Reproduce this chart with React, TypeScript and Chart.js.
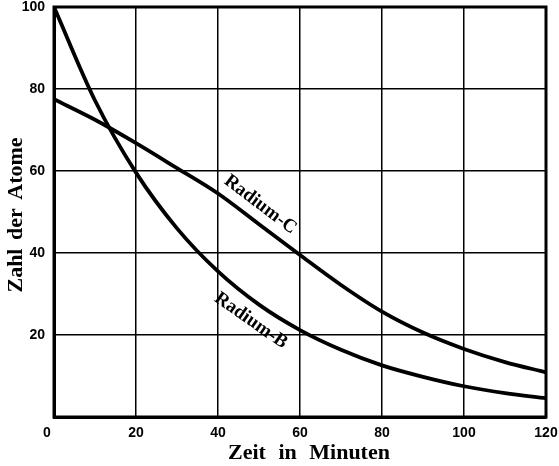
import React, { useEffect, useRef } from "react";
import { Chart, registerables } from "chart.js";

Chart.register(...registerables);

const minutes = [0, 10, 20, 30, 40, 50, 60, 70, 80, 90, 100, 110, 120];
const radiumB = [100, 77.2, 59.6, 46, 35.5, 27.4, 21.2, 16.4, 12.6, 9.8, 7.5, 5.8, 4.6];
const radiumC = [77.5, 72.5, 66.8, 60.7, 54.5, 47, 39.5, 32.2, 25.7, 20.6, 16.6, 13.4, 10.9];
const xTicks = [0, 20, 40, 60, 80, 100, 120];
const yTicks = [20, 40, 60, 80, 100];
const xTitle = "Zeit in Minuten";
const yTitle = "Zahl der Atome";
const labelB = "Radium-B";
const labelC = "Radium-C";

const textPlugin = {
  id: "textPlugin",
  afterDraw(chart: any) {
    const ctx = chart.ctx;
    const area = chart.chartArea;
    const xs = chart.scales.x;
    const ys = chart.scales.y;
    ctx.save();
    // frame
    ctx.strokeStyle = "#000";
    ctx.lineWidth = 3;
    ctx.strokeRect(area.left, area.top, area.right - area.left, area.bottom - area.top);
    ctx.fillStyle = "#000";
    // axis titles
    ctx.font = "bold 22px 'Liberation Serif'";
    ctx.textAlign = "center";
    ctx.textBaseline = "middle";
    try { (ctx as any).wordSpacing = "7px"; } catch (e) {}
    ctx.fillText(xTitle, 309, 453);
    try { (ctx as any).wordSpacing = "3px"; } catch (e) {}
    ctx.save();
    ctx.translate(16, 215);
    ctx.rotate(-Math.PI / 2);
    ctx.fillText(yTitle, 0, 0);
    ctx.restore();
    try { (ctx as any).wordSpacing = "0px"; } catch (e) {}
    // curve labels
    ctx.font = "bold 19px 'Liberation Serif'";
    const drawLabel = (txt: string, xv: number, yv: number, ang: number) => {
      ctx.save();
      ctx.translate(xs.getPixelForValue(xv), ys.getPixelForValue(yv));
      ctx.rotate((ang * Math.PI) / 180);
      ctx.fillText(txt, 0, 0);
      ctx.restore();
    };
    drawLabel(labelC, 50.3, 51.8, 37);
    drawLabel(labelB, 48, 23.5, 35);
    ctx.restore();
  },
};

export default function App() {
  const ref = useRef<HTMLCanvasElement | null>(null);
  useEffect(() => {
    document.body.style.margin = "0";
    const canvas = ref.current!;
    const chart = new Chart(canvas, {
      type: "line",
      data: {
        labels: minutes,
        datasets: [
          {
            label: labelB,
            data: minutes.map((m, i) => ({ x: m, y: radiumB[i] })),
            borderColor: "#000",
            borderWidth: 3.8,
            pointRadius: 0,
            cubicInterpolationMode: "monotone",
          },
          {
            label: labelC,
            data: minutes.map((m, i) => ({ x: m, y: radiumC[i] })),
            borderColor: "#000",
            borderWidth: 3.8,
            pointRadius: 0,
            cubicInterpolationMode: "monotone",
          },
        ],
      },
      options: {
        responsive: false,
        animation: false,
        layout: { padding: { top: 7, right: 13, left: 0, bottom: 0 } },
        plugins: { legend: { display: false }, tooltip: { enabled: false } },
        scales: {
          x: {
            type: "linear",
            min: 0,
            max: 120,
            afterBuildTicks: (s: any) => {
              s.ticks = xTicks.map((v) => ({ value: v }));
            },
            afterFit: (s: any) => {
              s.height = 49;
              s.paddingLeft = 0;
              s.paddingRight = 0;
            },
            grid: { color: "#000", lineWidth: 1.5, drawTicks: false },
            border: { color: "#000", width: 3 },
            ticks: {
              color: "#000",
              padding: 8,
              maxRotation: 0,
              callback: (v: any) => (v === 0 ? "0\u2002\u2002" : String(v)),
              font: { family: "'Liberation Sans'", weight: "bold", size: 14 },
            },
          },
          y: {
            type: "linear",
            min: 0,
            max: 100,
            afterBuildTicks: (s: any) => {
              s.ticks = [0, ...yTicks].map((v) => ({ value: v }));
            },
            afterFit: (s: any) => {
              s.width = 54;
              s.paddingTop = 0;
              s.paddingBottom = 0;
            },
            grid: { color: "#000", lineWidth: 1.5, drawTicks: false },
            border: { color: "#000", width: 3 },
            ticks: {
              color: "#000",
              padding: 9,
              callback: (v: any) => (v === 0 ? "" : String(v)),
              font: { family: "'Liberation Sans'", weight: "bold", size: 14 },
            },
          },
        },
      },
      plugins: [textPlugin],
    } as any);
    return () => chart.destroy();
  }, []);
  return (
    <div style={{ position: "absolute", left: 0, top: 0, width: 559, height: 466, background: "#fff" }}>
      <canvas ref={ref} width={559} height={466} style={{ display: "block" }} />
    </div>
  );
}
